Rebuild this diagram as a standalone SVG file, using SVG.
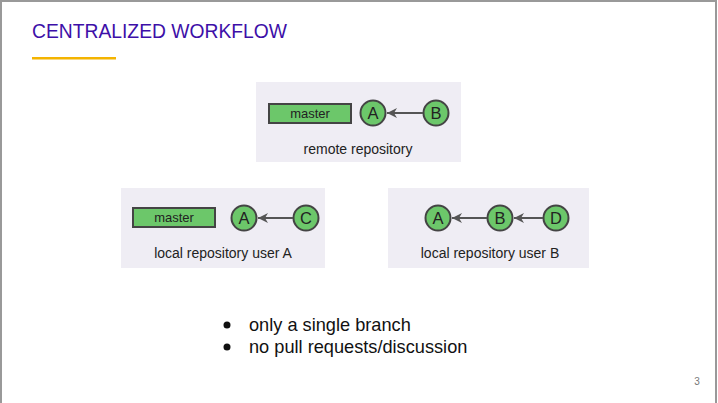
<svg xmlns="http://www.w3.org/2000/svg" width="718" height="403" viewBox="0 0 718 403">
<defs>
<style>
.panel{fill:#efedf4}
.branch{fill:#6cc76a;stroke:#444;stroke-width:2}
.commit{fill:#6cc76a;stroke:#444;stroke-width:2}
.lbl{font-family:"Liberation Sans",Arial,sans-serif;fill:#222;text-anchor:middle}
.edge{stroke:#555;stroke-width:2;fill:none;marker-end:url(#ah)}
.bul{font-family:"Liberation Sans",Arial,sans-serif;font-size:18.2px;fill:#111}
</style>
<marker id="ah" viewBox="0 0 10 10" refX="10" refY="5" markerWidth="5" markerHeight="5" orient="auto" markerUnits="strokeWidth">
<path d="M0,0 L10,5 L0,10 L3,5 z" fill="#555"/>
</marker>
</defs>
<rect x="0" y="0" width="718" height="403" fill="#fff"/>
<path d="M1,403 V1 H716 V403" fill="none" stroke="#999" stroke-width="2"/>
<text x="32" y="38" font-family="Liberation Sans,Arial,sans-serif" font-size="19.3" fill="#3d0fa8">CENTRALIZED WORKFLOW</text>
<rect x="32" y="57" width="84" height="2.5" fill="#f4b400"/>

<g id="remote">
<rect class="panel" x="256" y="82" width="205" height="80"/>
<text class="lbl" x="358" y="154" font-size="14">remote repository</text>
</g>
<g id="remote-master">
<rect class="branch" x="269" y="104" width="82" height="19"/>
<text class="lbl" x="310" y="118" font-size="13">master</text>
</g>
<g id="remote-A">
<circle class="commit" cx="373" cy="113" r="12.5"/>
<text class="lbl" x="373" y="119" font-size="16.5">A</text>
</g>
<g id="remote-B">
<circle class="commit" cx="436" cy="113" r="12.5"/>
<text class="lbl" x="436" y="119" font-size="16.5">B</text>
</g>

<g id="localA">
<rect class="panel" x="121" y="188" width="204" height="80"/>
<text class="lbl" x="223" y="258" font-size="14">local repository user A</text>
</g>
<g id="localA-master">
<rect class="branch" x="133" y="208" width="82" height="19"/>
<text class="lbl" x="174" y="222" font-size="13">master</text>
</g>
<g id="localA-A">
<circle class="commit" cx="244" cy="218" r="12.5"/>
<text class="lbl" x="244" y="224" font-size="16.5">A</text>
</g>
<g id="localA-C">
<circle class="commit" cx="306" cy="218" r="12.5"/>
<text class="lbl" x="306" y="224" font-size="16.5">C</text>
</g>

<g id="localB">
<rect class="panel" x="388" y="188" width="201" height="80"/>
<text class="lbl" x="490" y="258" font-size="14">local repository user B</text>
</g>
<g id="localB-A">
<circle class="commit" cx="438" cy="218" r="12.5"/>
<text class="lbl" x="438" y="224" font-size="16.5">A</text>
</g>
<g id="localB-B">
<circle class="commit" cx="500" cy="218" r="12.5"/>
<text class="lbl" x="500" y="224" font-size="16.5">B</text>
</g>
<g id="localB-D">
<circle class="commit" cx="556" cy="218" r="12.5"/>
<text class="lbl" x="556" y="224" font-size="16.5">D</text>
</g>

<g id="connectors">
<line class="edge" x1="423" y1="113" x2="387" y2="113"/>
<line class="edge" x1="293" y1="218" x2="258" y2="218"/>
<line class="edge" x1="487" y1="218" x2="452" y2="218"/>
<line class="edge" x1="543" y1="218" x2="514" y2="218"/>
</g>

<g id="bullets">
<circle cx="227" cy="325" r="3.5" fill="#111"/>
<text class="bul" x="249" y="331">only a single branch</text>
<circle cx="227" cy="347" r="3.5" fill="#111"/>
<text class="bul" x="249" y="353">no pull requests/discussion</text>
</g>
<text x="697" y="385" font-family="Liberation Sans,Arial,sans-serif" font-size="10" fill="#777" text-anchor="middle">3</text>
</svg>
